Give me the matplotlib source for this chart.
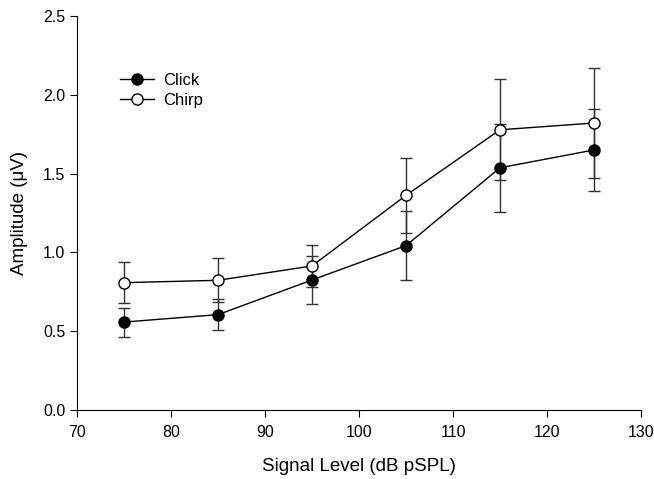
import matplotlib.pyplot as plt
from matplotlib.lines import Line2D

plt.rcParams['font.family'] = ['Liberation Sans', 'DejaVu Sans']

levels = [75, 85, 95, 105, 115, 125]
click = [0.558, 0.605, 0.825, 1.043, 1.537, 1.650]
click_err = [0.092, 0.097, 0.155, 0.220, 0.280, 0.258]
chirp = [0.808, 0.823, 0.914, 1.362, 1.778, 1.821]
chirp_err = [0.130, 0.140, 0.135, 0.237, 0.320, 0.350]

fig = plt.figure(figsize=(6.54, 4.79), dpi=100)
ax = fig.add_axes([77 / 654, 1 - 410 / 479, 564 / 654, 394 / 479])

ax.errorbar(levels, click, yerr=click_err, color='black', marker='o', ms=8,
            mfc='black', mec='black', lw=1.0, elinewidth=1.0, capsize=4.5,
            ecolor='#333333', zorder=3)
ax.errorbar(levels, chirp, yerr=chirp_err, color='black', marker='o', ms=8,
            mfc='white', mec='black', lw=1.0, elinewidth=1.0, capsize=4.5,
            ecolor='#333333', zorder=3)

ax.set_xlim(70, 130)
ax.set_ylim(0, 2.5)
ax.set_xticks(range(70, 131, 10))
ax.set_yticks([0, 0.5, 1.0, 1.5, 2.0, 2.5])
ax.set_yticklabels(['0.0', '0.5', '1.0', '1.5', '2.0', '2.5'])
ax.spines['top'].set_visible(False)
ax.spines['right'].set_visible(False)
ax.tick_params(direction='out', length=5, labelsize=11.5)
ax.tick_params(axis='x', pad=6)
ax.set_xlabel('Signal Level (dB pSPL)', fontsize=13.5, labelpad=13)
ax.set_ylabel('Amplitude (\u03bcV)', fontsize=13.5, labelpad=11)

handles = [
    Line2D([], [], color='black', marker='o', ms=8, mfc='black', mec='black', lw=1.0),
    Line2D([], [], color='black', marker='o', ms=8, mfc='white', mec='black', lw=1.0),
]
ax.legend(handles, ['Click', 'Chirp'], loc='upper left', bbox_to_anchor=(0.05, 0.893),
          frameon=False, fontsize=12, handlelength=2.0, handletextpad=0.6,
          labelspacing=0.3)

fig.savefig('out.png', dpi=100)
